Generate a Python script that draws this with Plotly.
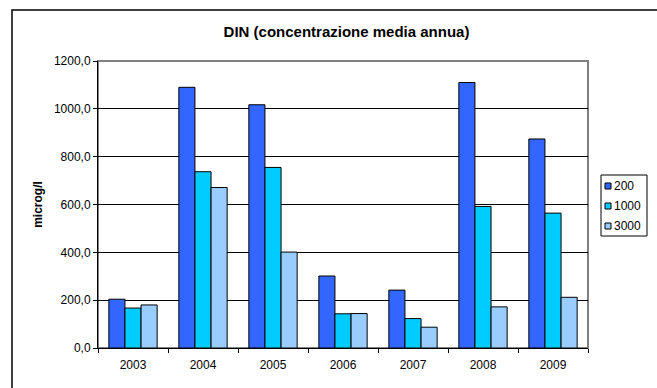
import plotly.graph_objects as go

years = ["2003", "2004", "2005", "2006", "2007", "2008", "2009"]
s200 = [204, 1090, 1017, 301, 242, 1110, 874]
s1000 = [167, 737, 755, 143, 123, 592, 564]
s3000 = [180, 671, 401, 144, 87, 172, 212]

series = [("200", s200, "#3366FF"), ("1000", s1000, "#00CCFF"), ("3000", s3000, "#99CCFF")]

fig = go.Figure()
for name, vals, col in series:
    fig.add_trace(go.Bar(x=years, y=vals, name=name, showlegend=False,
                         marker=dict(color=col, line=dict(color="#000000", width=1))))

W, H = 657, 388
L, R, T, B = 98, 69, 61, 40
PW, PH = W - L - R, H - T - B


def px(x):
    return (x - L) / PW


def py(y):
    return (H - B - y) / PH


shapes = [
    dict(type="rect", xref="paper", yref="paper", x0=0, x1=1, y0=0, y1=1,
         line=dict(color="#808080", width=2), layer="below"),
    dict(type="rect", xref="paper", yref="paper", x0=px(12), x1=px(W + 10),
         y0=py(H + 10), y1=py(10), line=dict(color="#000000", width=1.5)),
    dict(type="rect", xref="paper", yref="paper", x0=px(601), x1=px(647),
         y0=py(236), y1=py(175), line=dict(color="#000000", width=1), fillcolor="white"),
]
annotations = []
for i, (name, vals, col) in enumerate(series):
    yc = 186 + i * 20
    shapes.append(dict(type="rect", xref="paper", yref="paper", x0=px(605), x1=px(611),
                       y0=py(yc + 3), y1=py(yc - 3), line=dict(color="#000000", width=1), fillcolor=col))
    annotations.append(dict(xref="paper", yref="paper", x=px(612), y=py(yc), text=name, showarrow=False,
                            xanchor="left", yanchor="middle", font=dict(size=12)))

fig.update_layout(
    width=W, height=H,
    margin=dict(l=L, r=R, t=T, b=B, autoexpand=False),
    paper_bgcolor="white", plot_bgcolor="white",
    barmode="group", bargap=0.31, bargroupgap=0,
    separators=",.",
    font=dict(family="Liberation Sans, Arial, sans-serif", size=12, color="#000000"),
    title=dict(text="<b>DIN (concentrazione media annua)</b>", x=346.5 / W, xanchor="center",
               y=1 - 31.5 / H, yanchor="middle", font=dict(size=15)),
    xaxis=dict(type="category", showline=True, linecolor="#000000", linewidth=1,
               ticks="outside", ticklen=4, tickcolor="#000000", tickson="boundaries",
               ticklabelstandoff=6, showgrid=False, tickfont=dict(size=12)),
    yaxis=dict(range=[0, 1200], dtick=200, tickformat=".1f", showline=True, linecolor="#000000", linewidth=1,
               ticks="outside", ticklen=4, tickcolor="#000000", showgrid=True, gridcolor="#000000", gridwidth=1,
               zeroline=False, tickfont=dict(size=12),
               title=dict(text="<b>microg/l</b>", font=dict(size=12), standoff=8)),
    shapes=shapes,
    annotations=annotations,
)
fig.write_html("out.html")
